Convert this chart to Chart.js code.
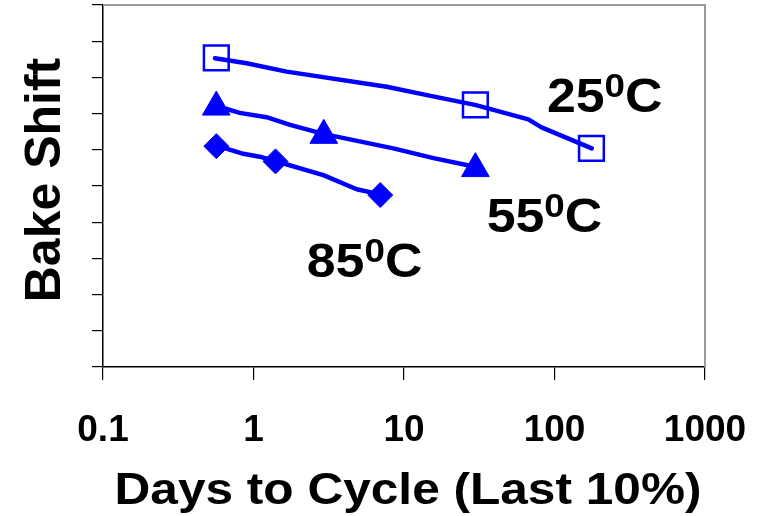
<!DOCTYPE html>
<html>
<head>
<meta charset="utf-8">
<script src="https://cdn.jsdelivr.net/npm/chart.js@4.4.1/dist/chart.umd.min.js"></script>
<style>
  html, body { margin: 0; padding: 0; background: #fff; }
  #wrap { width: 762px; height: 516px; position: relative; }
</style>
</head>
<body>
<div id="wrap"><canvas id="bake-chart"></canvas></div>
<script>
// values (x in days, y in axis units 0..10)
const line25Days = [0.554, 0.90, 1.66, 7.67, 14.2, 29.6, 67, 82, 177];
const line25Shift = [8.53, 8.39, 8.16, 7.74, 7.51, 7.24, 6.84, 6.62, 6.04];
const line55Days = [0.569, 0.81, 1.22, 1.75, 2.91, 8.49, 15.7, 29.6];
const line55Shift = [7.21, 7.02, 6.90, 6.69, 6.44, 6.04, 5.77, 5.53];
const line85Days = [0.554, 0.836, 1.10, 1.39, 2.91, 4.85, 6.93];
const line85Shift = [6.13, 5.90, 5.81, 5.69, 5.30, 4.91, 4.77];

const mark25Days = [0.566, 29.8, 176];
const mark25Shift = [8.54, 7.24, 6.04];
const mark55Days = [0.566, 2.93, 29.8];
const mark55Shift = [7.18, 6.40, 5.48];
const mark85Days = [0.566, 1.40, 6.95];
const mark85Shift = [6.10, 5.68, 4.75];

const xTickValues = [0.1, 1, 10, 100, 1000];
const xTickLabels = ["0.1", "1", "10", "100", "1000"];
const tempLabels = [
  { big: "25", sup: "0", tail: "C", days: 89, shift: 7.04 },
  { big: "55", sup: "0", tail: "C", days: 35.4, shift: 3.74 },
  { big: "85", sup: "0", tail: "C", days: 2.26, shift: 2.5 },
];

const blue = "#0000ff";
const fontFam = "'Liberation Sans', Arial, sans-serif";

const toPoints = (xs, ys) => xs.map((x, i) => ({ x: x, y: ys[i] }));

const lineSet = (xs, ys) => ({
  data: toPoints(xs, ys),
  borderColor: blue,
  borderWidth: 4.5,
  pointRadius: 0,
  showLine: true,
  tension: 0,
  borderCapStyle: "round",
  borderJoinStyle: "round",
});

const markSet = (xs, ys, style, radius, filled) => ({
  data: toPoints(xs, ys),
  showLine: false,
  pointStyle: style,
  pointRadius: radius,
  pointHoverRadius: radius,
  pointBorderColor: blue,
  pointBorderWidth: filled ? 1 : 2.5,
  pointBackgroundColor: filled ? blue : "rgba(255,255,255,0)",
});

// bold text, optionally squeezed/stretched sideways like the slide
const wideText = (ctx, text, x, y, size, sx, align) => {
  ctx.save();
  ctx.font = `bold ${size}px ${fontFam}`;
  const w = ctx.measureText(text).width * sx;
  let left = x;
  if (align === "center") left = x - w / 2;
  ctx.translate(left, y);
  ctx.scale(sx, 1);
  ctx.textAlign = "left";
  ctx.fillText(text, 0, 0);
  ctx.restore();
};

const textPlugin = {
  id: "slideText",
  beforeDatasetsDraw(chart) {
    const { ctx, chartArea } = chart;
    // grey frame top and right
    ctx.save();
    ctx.strokeStyle = "#9a9a9a";
    ctx.lineWidth = 2;
    ctx.beginPath();
    ctx.moveTo(chartArea.left, chartArea.top);
    ctx.lineTo(chartArea.right, chartArea.top);
    ctx.lineTo(chartArea.right, chartArea.bottom);
    ctx.stroke();
    ctx.restore();
  },
  afterDraw(chart) {
    const { ctx } = chart;
    const xs = chart.scales.x;
    const ys = chart.scales.y;
    ctx.save();
    ctx.fillStyle = "#000";
    ctx.textBaseline = "alphabetic";

    xTickValues.forEach((v, i) => {
      wideText(ctx, xTickLabels[i], xs.getPixelForValue(v), 441, 37, 1, "center");
    });

    // x title stretched to the slide's width
    ctx.font = `bold 44px ${fontFam}`;
    const title = "Days to Cycle (Last 10%)";
    const sx = 587 / ctx.measureText(title).width;
    wideText(ctx, title, 408, 504, 44, sx, "center");

    ctx.save();
    ctx.translate(60, 180);
    ctx.rotate(-Math.PI / 2);
    ctx.font = `bold 50px ${fontFam}`;
    ctx.textAlign = "center";
    ctx.fillText("Bake Shift", 0, 0);
    ctx.restore();

    tempLabels.forEach((t) => {
      const px = xs.getPixelForValue(t.days);
      const py = ys.getPixelForValue(t.shift);
      ctx.save();
      ctx.translate(px, py);
      ctx.scale(1.08, 1);
      ctx.font = `bold 48px ${fontFam}`;
      ctx.fillText(t.big, 0, 0);
      let w = ctx.measureText(t.big).width;
      ctx.font = `bold 34px ${fontFam}`;
      ctx.fillText(t.sup, w, -15);
      w += ctx.measureText(t.sup).width;
      ctx.font = `bold 48px ${fontFam}`;
      ctx.fillText(t.tail, w, 0);
      ctx.restore();
    });
    ctx.restore();
  },
};

new Chart(document.getElementById("bake-chart"), {
  type: "scatter",
  data: {
    datasets: [
      lineSet(line25Days, line25Shift),
      lineSet(line55Days, line55Shift),
      lineSet(line85Days, line85Shift),
      markSet(mark25Days, mark25Shift, "rect", 17.5, false),
      markSet(mark55Days, mark55Shift, "triangle", 16, true),
      markSet(mark85Days, mark85Shift, "rectRot", 12.5, true),
    ],
  },
  options: {
    responsive: true,
    maintainAspectRatio: false,
    animation: false,
    layout: { autoPadding: false, padding: { top: 5, right: 57, left: 0, bottom: 0 } },
    plugins: {
      legend: { display: false },
      tooltip: { enabled: false },
    },
    scales: {
      x: {
        type: "logarithmic",
        min: 0.1,
        max: 1000,
        afterBuildTicks: (scale) => {
          scale.ticks = xTickValues.map((v) => ({ value: v }));
        },
        afterFit: (scale) => {
          scale.height = 149;
        },
        ticks: { display: false },
        grid: { drawOnChartArea: false, color: "#000", tickLength: 13, lineWidth: 1.2 },
        border: { color: "#000", width: 1.5 },
      },
      y: {
        min: 0,
        max: 10,
        afterFit: (scale) => {
          scale.width = 103;
        },
        ticks: { display: false, stepSize: 1 },
        grid: { drawOnChartArea: false, color: "#000", tickLength: 11, lineWidth: 1.2 },
        border: { color: "#000", width: 1.5 },
      },
    },
  },
  plugins: [textPlugin],
});
</script>
</body>
</html>
